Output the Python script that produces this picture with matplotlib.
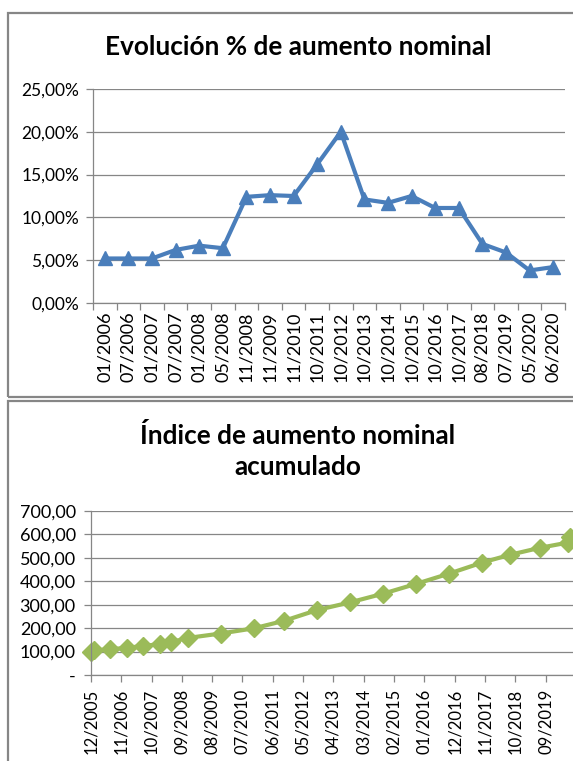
import matplotlib
matplotlib.use("Agg")
import matplotlib.pyplot as plt
import matplotlib.dates as mdates
from matplotlib.patches import Rectangle
from matplotlib.ticker import FuncFormatter, FixedLocator
import pandas as pd

# data
fechas_pct = ['01/2006', '07/2006', '01/2007', '07/2007', '01/2008', '05/2008',
              '11/2008', '11/2009', '11/2010', '10/2011', '10/2012', '10/2013',
              '10/2014', '10/2015', '10/2016', '10/2017', '08/2018', '07/2019',
              '05/2020', '06/2020']
aumento_pct = [5.2, 5.2, 5.2, 6.2, 6.7, 6.4, 12.4, 12.6, 12.5, 16.2, 20.0, 12.1,
               11.7, 12.5, 11.1, 11.1, 6.9, 5.9, 3.8, 4.2]

fechas_ind = ['12/2005'] + fechas_pct
indice = [100, 105, 110, 116, 124, 132, 140, 158, 177, 199, 231, 277, 310, 347,
          389, 433, 480, 513, 543, 565, 588]

plt.rcParams['font.family'] = ['Lato', 'DejaVu Sans']

W, H = 573, 761
fig = plt.figure(figsize=(W / 100, H / 100), dpi=100)
fig.patch.set_facecolor('white')

def fx(px):
    return px / W

def fy(py):
    return 1 - py / H

grey = '#868686'

# chart boxes (right side of both is cut off in the original screenshot)
fig.add_artist(Rectangle((fx(8), fy(397)), fx(620), fy(13) - fy(397),
                         transform=fig.transFigure, fill=False, ec=grey, lw=1.6))
fig.add_artist(Rectangle((fx(8), fy(800)), fx(620), fy(401) - fy(800),
                         transform=fig.transFigure, fill=False, ec=grey, lw=1.6))


def style_axes(ax):
    for s in ['top', 'right']:
        ax.spines[s].set_visible(False)
    for s in ['left', 'bottom']:
        ax.spines[s].set_color(grey)
        ax.spines[s].set_linewidth(0.9)
    ax.grid(axis='y', color=grey, lw=0.9)
    ax.set_axisbelow(True)
    ax.tick_params(which='both', color=grey, length=5, width=0.9, direction='out')


# ---- top chart ----
ax1 = fig.add_axes([fx(93), fy(303), fx(565) - fx(93), fy(89) - fy(303)])
x = list(range(len(fechas_pct)))
ax1.plot(x, aumento_pct, color='#4A7EBB', lw=3, marker='^', ms=10.5,
         mec='#4A7EBB', mfc='#4A7EBB', clip_on=False)
ax1.set_xlim(-0.5, len(x) - 0.5)
ax1.set_ylim(0, 25)
ax1.set_yticks([0, 5, 10, 15, 20, 25])
ax1.yaxis.set_major_formatter(FuncFormatter(lambda v, p: f'{v:.2f}%'.replace('.', ',')))
ax1.xaxis.set_major_locator(FixedLocator([i - 0.5 for i in range(len(x) + 1)]))
ax1.xaxis.set_major_formatter(FuncFormatter(lambda v, p: ''))
ax1.set_xticks(x, minor=True)
ax1.set_xticklabels(fechas_pct, minor=True, rotation=90, fontsize=13)
style_axes(ax1)
ax1.tick_params(axis='x', which='minor', length=0, pad=6)
ax1.tick_params(axis='y', labelsize=12.5, pad=5)
fig.text(fx(298), fy(47), 'Evolución % de aumento nominal', ha='center', va='center',
         fontsize=18.8, fontweight='bold')

# ---- bottom chart ----
ax2 = fig.add_axes([fx(91), fy(675), fx(576) - fx(91), fy(511) - fy(675)])
d = pd.to_datetime(fechas_ind, format='%m/%Y')
ax2.plot(d, indice, color='#9BBB59', lw=3, marker='D', ms=9,
         mec='#9BBB59', mfc='#9BBB59', clip_on=False)
ticks = pd.date_range('2005-12-01', periods=16, freq='11MS')
ax2.set_xlim(ticks[0], pd.Timestamp('2020-08-01'))
ax2.set_xticks(ticks)
ax2.xaxis.set_major_formatter(mdates.DateFormatter('%m/%Y'))
ax2.set_ylim(0, 700)
ax2.set_yticks(range(0, 701, 100))
ax2.yaxis.set_major_formatter(FuncFormatter(
    lambda v, p: '-' if v == 0 else f'{v:.2f}'.replace('.', ',')))
style_axes(ax2)
ax2.tick_params(axis='x', labelrotation=90, labelsize=12, pad=5)
ax2.tick_params(axis='y', labelsize=13, pad=6)
fig.text(fx(298), fy(435), 'Índice de aumento nominal', ha='center', va='center',
         fontsize=18.8, fontweight='bold')
fig.text(fx(298), fy(467), 'acumulado', ha='center', va='center',
         fontsize=18.8, fontweight='bold')

fig.savefig('out.png', dpi=100)
